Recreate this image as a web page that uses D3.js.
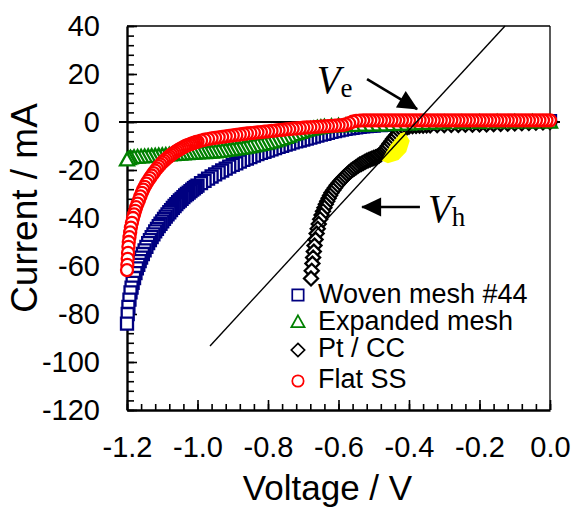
<!DOCTYPE html>
<html>
<head>
<meta charset="utf-8">
<script src="https://cdn.jsdelivr.net/npm/d3@7"></script>
<style>
  body { margin: 0; background: #fff; }
  svg { display: block; }
</style>
</head>
<body>
<div id="chart"></div>
<script>
// polarisation curves, [voltage (V), current (mA)]
const wovenMesh = [
  [-1.200,-84],[-1.198,-80],[-1.196,-77],[-1.193,-74],[-1.190,-71],[-1.187,-69],[-1.184,-67],[-1.180,-65],
  [-1.176,-63],[-1.172,-61],[-1.168,-59.5],[-1.164,-58],[-1.160,-56.5],[-1.155,-55],[-1.150,-53.5],[-1.145,-52],
  [-1.140,-50.5],[-1.135,-49.2],[-1.130,-48],[-1.125,-46.8],[-1.120,-45.6],[-1.115,-44.5],[-1.110,-43.4],
  [-1.105,-42.4],[-1.100,-41.4],[-1.095,-40.4],[-1.090,-39.4],[-1.085,-38.5],[-1.080,-37.6],[-1.075,-36.7],
  [-1.070,-35.8],[-1.065,-35],[-1.060,-34.2],[-1.055,-33.4],[-1.050,-32.7],[-1.045,-32],[-1.040,-31.3],
  [-1.035,-30.6],[-1.030,-30],[-1.025,-29.4],[-1.020,-28.8],[-1.015,-28.2],[-1.010,-27.6],[-1.005,-27],
  [-1.000,-26.5],[-0.99,-25.5],[-0.98,-24.5],[-0.97,-23.6],[-0.96,-22.7],[-0.95,-21.8],[-0.94,-21],
  [-0.93,-20.2],[-0.92,-19.4],[-0.91,-18.6],[-0.90,-17.9],[-0.89,-17.2],[-0.88,-16.5],[-0.87,-15.8],
  [-0.86,-15.2],[-0.85,-14.6],[-0.84,-14],[-0.83,-13.4],[-0.82,-12.9],[-0.81,-12.4],[-0.80,-11.9],
  [-0.79,-11.4],[-0.78,-10.9],[-0.77,-10.4],[-0.76,-9.9],[-0.75,-9.4],[-0.74,-9],[-0.73,-8.5],[-0.72,-8.1],
  [-0.71,-7.7],[-0.70,-7.3],[-0.69,-6.9],[-0.68,-6.5],[-0.67,-6.1],[-0.66,-5.7],[-0.65,-5.3],[-0.64,-4.9],
  [-0.63,-4.5],[-0.62,-4.1],[-0.61,-3.8],[-0.60,-3.5],[-0.59,-3.2],[-0.58,-2.9],[-0.57,-2.6],[-0.56,-2.4],
  [-0.55,-2.2],[-0.54,-2.0],[-0.53,-1.8],[-0.52,-1.7],[-0.51,-1.6],[-0.50,-1.5],[-0.48,-1.3],[-0.46,-1.2],
  [-0.44,-1.1],[-0.42,-1.0],[-0.40,-0.9],[-0.38,-0.8],[-0.36,-0.7],[-0.34,-0.6],[-0.32,-0.5],[-0.30,-0.4],
  [-0.28,-0.3],[-0.26,-0.2],[-0.24,-0.1],[-0.22,0],[-0.20,0.1],[-0.18,0.2],[-0.16,0.2],[-0.14,0.3],
  [-0.12,0.3],[-0.10,0.3],[-0.08,0.4],[-0.06,0.4],[-0.04,0.4],[-0.02,0.4],[0,0.4]
];

const expandedMesh = [
  [-1.200,-15.8],[-1.195,-15.2],[-1.19,-14.9],[-1.18,-14.7],[-1.17,-14.6],[-1.16,-14.5],[-1.15,-14.4],
  [-1.14,-14.3],[-1.13,-14.2],[-1.12,-14.1],[-1.11,-14],[-1.10,-13.9],[-1.09,-13.8],[-1.08,-13.7],
  [-1.07,-13.6],[-1.06,-13.5],[-1.05,-13.4],[-1.04,-13.3],[-1.03,-13.2],[-1.02,-13.1],[-1.01,-13],
  [-1.00,-12.9],[-0.99,-12.8],[-0.98,-12.7],[-0.97,-12.6],[-0.96,-12.5],[-0.95,-12.4],[-0.94,-12.2],
  [-0.93,-12],[-0.92,-11.8],[-0.91,-11.6],[-0.90,-11.4],[-0.89,-11.2],[-0.88,-11],[-0.87,-10.8],
  [-0.86,-10.5],[-0.85,-10.2],[-0.84,-9.9],[-0.83,-9.6],[-0.82,-9.3],[-0.81,-9],[-0.80,-8.7],[-0.79,-8.3],
  [-0.78,-7.9],[-0.77,-7.4],[-0.76,-6.9],[-0.75,-6.4],[-0.74,-5.9],[-0.73,-5.3],[-0.72,-4.8],[-0.71,-4.3],
  [-0.70,-3.8],[-0.69,-3.4],[-0.68,-3.0],[-0.67,-2.7],[-0.66,-2.4],[-0.65,-2.2],[-0.64,-2.0],[-0.62,-1.8],
  [-0.60,-1.6],[-0.58,-1.5],[-0.56,-1.4],[-0.54,-1.3],[-0.52,-1.3],[-0.50,-1.2],[-0.48,-1.2],[-0.46,-1.1],
  [-0.44,-1.0],[-0.42,-0.9],[-0.40,-0.8],[-0.38,-0.7],[-0.36,-0.6],[-0.34,-0.5],[-0.32,-0.4],[-0.30,-0.3],
  [-0.25,-0.2],[-0.20,-0.1],[-0.15,0],[-0.10,0],[-0.05,0],[0,0]
];

const ptCC = [
  [-0.678,-65.2],[-0.676,-62],[-0.674,-59],[-0.672,-56.5],[-0.670,-54],[-0.668,-51.5],[-0.665,-49],
  [-0.662,-46.5],[-0.659,-44.5],[-0.656,-42.5],[-0.652,-40.5],[-0.648,-38.8],[-0.644,-37.2],[-0.640,-35.7],
  [-0.636,-34.3],[-0.632,-33],[-0.628,-31.8],[-0.624,-30.6],[-0.620,-29.5],[-0.615,-28.4],[-0.610,-27.4],
  [-0.605,-26.4],[-0.600,-25.5],[-0.595,-24.7],[-0.590,-23.9],[-0.585,-23.1],[-0.580,-22.4],[-0.575,-21.7],
  [-0.570,-21.0],[-0.565,-20.4],[-0.560,-19.8],[-0.555,-19.3],[-0.550,-18.8],[-0.545,-18.3],[-0.540,-17.8],
  [-0.535,-17.4],[-0.530,-17.0],[-0.525,-16.6],[-0.520,-16.2],[-0.515,-15.9],[-0.510,-15.6],[-0.505,-15.3],
  [-0.500,-15.0],[-0.495,-14.7],[-0.490,-14.4],[-0.485,-14.0],[-0.480,-13.5],[-0.475,-12.8],[-0.470,-11.9],
  [-0.465,-11.0],[-0.460,-10.0],[-0.455,-9.0],[-0.450,-8.0],[-0.445,-7.0],[-0.440,-6.1],[-0.435,-5.3],
  [-0.430,-4.6],[-0.425,-3.9],[-0.420,-3.3],[-0.415,-2.8],[-0.410,-2.4],[-0.405,-2.1],[-0.400,-1.9],
  [-0.39,-1.7],[-0.38,-1.6],[-0.37,-1.5],[-0.36,-1.5],[-0.35,-1.4],[-0.34,-1.4],[-0.32,-1.3],[-0.30,-1.3],
  [-0.28,-1.2],[-0.26,-1.2],[-0.24,-1.1],[-0.22,-1.1],[-0.20,-1.0],[-0.18,-1.0],[-0.16,-0.9],[-0.14,-0.8],
  [-0.12,-0.7],[-0.10,-0.6],[-0.08,-0.5],[-0.06,-0.4],[-0.04,-0.3],[-0.02,-0.2],[0,0]
];

const flatSS = [
  [-1.200,-61.7],[-1.199,-59.5],[-1.198,-57],[-1.197,-54.5],[-1.196,-52],[-1.195,-50],[-1.193,-48],
  [-1.191,-46],[-1.189,-44],[-1.186,-42],[-1.183,-40],[-1.180,-38.5],[-1.177,-37],[-1.174,-35.5],
  [-1.170,-34],[-1.166,-32.5],[-1.162,-31],[-1.158,-29.5],[-1.154,-28.2],[-1.150,-27],[-1.145,-25.7],
  [-1.140,-24.5],[-1.135,-23.4],[-1.130,-22.3],[-1.125,-21.3],[-1.120,-20.3],[-1.115,-19.4],[-1.110,-18.5],
  [-1.105,-17.7],[-1.100,-16.9],[-1.095,-16.2],[-1.090,-15.5],[-1.085,-14.9],[-1.080,-14.3],[-1.075,-13.7],
  [-1.070,-13.2],[-1.065,-12.7],[-1.060,-12.2],[-1.055,-11.7],[-1.050,-11.3],[-1.045,-10.9],[-1.040,-10.5],
  [-1.035,-10.1],[-1.030,-9.8],[-1.025,-9.5],[-1.020,-9.2],[-1.015,-8.9],[-1.010,-8.7],[-1.005,-8.4],
  [-1.000,-8.2],[-0.99,-7.8],[-0.98,-7.4],[-0.97,-7.1],[-0.96,-6.8],[-0.95,-6.6],[-0.94,-6.4],[-0.93,-6.2],
  [-0.92,-6.0],[-0.91,-5.8],[-0.90,-5.6],[-0.89,-5.4],[-0.88,-5.2],[-0.87,-5.0],[-0.86,-4.8],[-0.85,-4.6],
  [-0.84,-4.5],[-0.83,-4.3],[-0.82,-4.2],[-0.81,-4.0],[-0.80,-3.9],[-0.79,-3.7],[-0.78,-3.6],[-0.77,-3.4],
  [-0.76,-3.3],[-0.75,-3.1],[-0.74,-3.0],[-0.73,-2.8],[-0.72,-2.7],[-0.71,-2.6],[-0.70,-2.4],[-0.69,-2.3],
  [-0.68,-2.2],[-0.67,-2.1],[-0.66,-2.0],[-0.65,-1.9],[-0.64,-1.8],[-0.63,-1.7],[-0.62,-1.6],[-0.61,-1.5],
  [-0.60,-1.4],[-0.59,-1.3],[-0.58,-1.0],[-0.57,-0.5],[-0.56,0.1],[-0.55,0.5],[-0.54,0.6],[-0.53,0.7],
  [-0.52,0.7],[-0.51,0.7],[-0.50,0.7],[-0.49,0.7],[-0.48,0.7],[-0.47,0.7],[-0.46,0.7],[-0.45,0.7],
  [-0.44,0.7],[-0.43,0.7],[-0.42,0.7],[-0.41,0.7],[-0.40,0.7],[-0.39,0.7],[-0.38,0.7],[-0.37,0.7],
  [-0.36,0.7],[-0.35,0.7],[-0.34,0.7],[-0.33,0.7],[-0.32,0.7],[-0.31,0.7],[-0.30,0.7],[-0.29,0.7],
  [-0.28,0.7],[-0.27,0.7],[-0.26,0.7],[-0.25,0.7],[-0.24,0.7],[-0.23,0.7],[-0.22,0.7],[-0.21,0.7],
  [-0.20,0.7],[-0.19,0.7],[-0.18,0.7],[-0.17,0.7],[-0.16,0.7],[-0.15,0.7],[-0.14,0.7],[-0.13,0.7],
  [-0.12,0.7],[-0.11,0.7],[-0.10,0.7],[-0.09,0.7],[-0.08,0.7],[-0.07,0.7],[-0.06,0.7],[-0.05,0.7],
  [-0.04,0.7],[-0.03,0.7],[-0.02,0.7],[-0.01,0.7],[0,0.7]
];

const xTicks = [-1.2, -1.0, -0.8, -0.6, -0.4, -0.2, 0.0];
const yTicks = [-120, -100, -80, -60, -40, -20, 0, 20, 40];

// annotation geometry, in data units
const fitLine = [[-0.9645, -93.3], [-0.1277, 40]];
const highlight = [[-0.478,-16.0],[-0.452,-9.5],[-0.425,-4.8],[-0.412,-4.2],[-0.398,-7.8],[-0.408,-12.5],[-0.430,-15.8],[-0.460,-17.2]];
const veArrow = [[-0.519, 17.9], [-0.377, 5.4]];
const vhArrow = [[-0.369, -35.4], [-0.533, -35.4]];
const veLabel = [-0.662, 12.1];
const vhLabel = [-0.346, -41.5];

const series = [
  { name: "Woven mesh #44", data: wovenMesh, color: "#000080", shape: "square" },
  { name: "Pt / CC", data: ptCC, color: "#000000", shape: "diamond" },
  { name: "Expanded mesh", data: expandedMesh, color: "#008000", shape: "triangle" },
  { name: "Flat SS", data: flatSS, color: "#ff0000", shape: "circle" }
];
const legendOrder = ["Woven mesh #44", "Expanded mesh", "Pt / CC", "Flat SS"];

const W = 576, H = 507;
const x = d3.scaleLinear().domain([-1.2, 0]).range([127, 550]);
const y = d3.scaleLinear().domain([-120, 40]).range([410, 26]);

const shapes = {
  square: "M-6,-6H6V6H-6Z",
  triangle: "M0,-7L7,5.5H-7Z",
  diamond: "M0,-7L7,0L0,7L-7,0Z",
  circle: "M6,0A6,6 0 1,1 -6,0A6,6 0 1,1 6,0Z"
};

const svg = d3.select("#chart").append("svg").attr("width", W).attr("height", H);
const font = "'Liberation Sans', Arial, sans-serif";

// frame
svg.append("line").attr("x1", x(-1.2)).attr("x2", x(0)).attr("y1", y(40)).attr("y2", y(40))
  .attr("stroke", "#000").attr("stroke-width", 1.6);
svg.append("line").attr("x1", x(0)).attr("x2", x(0)).attr("y1", y(40)).attr("y2", y(-120))
  .attr("stroke", "#000").attr("stroke-width", 1.3);

// minor ticks
svg.append("g").attr("transform", "translate(" + x(-1.2) + ",0)")
  .call(d3.axisLeft(y).tickValues(d3.range(-120, 41, 4)).tickSize(-7).tickFormat(""))
  .call(g => g.select(".domain").remove())
  .selectAll("line").attr("stroke-width", 1.6);
svg.append("g").attr("transform", "translate(0," + y(-120) + ")")
  .call(d3.axisBottom(x).tickValues(d3.range(-30, 1).map(d => d * 0.04)).tickSize(-6).tickFormat(""))
  .call(g => g.select(".domain").remove())
  .selectAll("line").attr("stroke-width", 1.6);

// major axes
const yAxis = svg.append("g").attr("transform", "translate(" + x(-1.2) + ",0)")
  .call(d3.axisLeft(y).tickValues(yTicks).tickSizeInner(-10).tickSizeOuter(0).tickPadding(27).tickFormat(d => d));
const xAxis = svg.append("g").attr("transform", "translate(0," + y(-120) + ")")
  .call(d3.axisBottom(x).tickValues(xTicks).tickSizeInner(-10).tickSizeOuter(0).tickPadding(27).tickFormat(d => d.toFixed(1)));
[yAxis, xAxis].forEach(g => {
  g.select(".domain").attr("stroke-width", 2.4);
  g.selectAll(".tick line").attr("stroke-width", 1.6);
  g.selectAll("text").attr("font-family", font).attr("font-size", 29).attr("fill", "#000");
});
xAxis.selectAll("text").attr("dy", null).attr("y", 47);

// zero line
svg.append("line").attr("x1", x(-1.2) - 8).attr("x2", x(0) + 10).attr("y1", y(0)).attr("y2", y(0))
  .attr("stroke", "#000").attr("stroke-width", 2);

const line = d3.line().x(d => x(d[0])).y(d => y(d[1]));

// data markers; each sweep is drawn from 0 V down to -1.2 V
series.forEach(s => {
  svg.append("g").selectAll("path")
    .data(s.data.slice().reverse())
    .enter().append("path")
    .attr("d", shapes[s.shape])
    .attr("transform", d => "translate(" + x(d[0]) + "," + y(d[1]) + ")")
    .attr("fill", "#fff")
    .attr("stroke", s.color)
    .attr("stroke-width", 2.3);
});

// yellow highlight + fit line
svg.append("path").attr("d", line(highlight) + "Z").attr("fill", "#ffff00").attr("stroke", "none");
svg.append("path").attr("d", line(fitLine)).attr("stroke", "#000").attr("stroke-width", 1.4).attr("fill", "none");

// arrows
const defs = svg.append("defs");
defs.append("marker").attr("id", "head").attr("markerUnits", "userSpaceOnUse")
  .attr("viewBox", "-20 -10 22 20").attr("refX", 0).attr("refY", 0)
  .attr("markerWidth", 22).attr("markerHeight", 20).attr("orient", "auto")
  .append("path").attr("d", "M1,0L-19,-9.5L-19,9.5Z").attr("fill", "#000");
[veArrow, vhArrow].forEach(a => {
  svg.append("path").attr("d", line(a)).attr("stroke", "#000").attr("stroke-width", 2.6)
    .attr("fill", "none").attr("marker-end", "url(#head)");
});

// V_e, V_h labels
[[veLabel, "e"], [vhLabel, "h"]].forEach(([p, sub]) => {
  const t = svg.append("text").attr("x", x(p[0])).attr("y", y(p[1]))
    .attr("font-family", "'Liberation Serif', 'Times New Roman', serif").attr("fill", "#000");
  t.append("tspan").attr("font-style", "italic").attr("font-size", 39).text("V");
  t.append("tspan").attr("font-size", 27).attr("dy", 4).text(sub);
});

// legend
const legendX = x(-0.715), legendRows = [295, 322, 350, 381], legendBase = [303, 330, 357, 388];
legendOrder.forEach((name, i) => {
  const s = series.find(d => d.name === name);
  svg.append("path").attr("d", shapes[s.shape])
    .attr("transform", "translate(" + legendX + "," + legendRows[i] + ") scale(0.95)")
    .attr("fill", "#fff").attr("stroke", s.color).attr("stroke-width", 1.8);
  svg.append("text").attr("x", legendX + 20).attr("y", legendBase[i])
    .attr("font-family", font).attr("font-size", 27).attr("fill", "#000").text(name);
});

// axis titles
svg.append("text").attr("transform", "translate(37,208) rotate(-90)").attr("text-anchor", "middle")
  .attr("font-family", font).attr("font-size", 37).attr("fill", "#000").text("Current / mA");
svg.append("text").attr("x", 327.5).attr("y", 500).attr("text-anchor", "middle")
  .attr("font-family", font).attr("font-size", 35).attr("fill", "#000").text("Voltage / V");
</script>
</body>
</html>
